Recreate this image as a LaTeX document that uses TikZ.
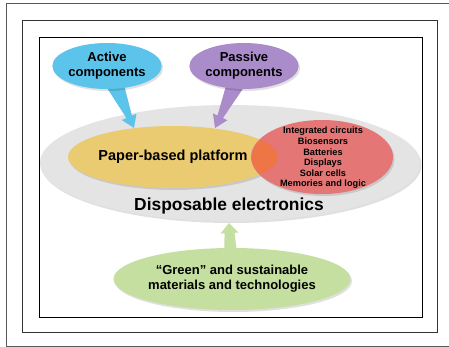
\documentclass[tikz,border=0pt]{standalone}
\usepackage{fontspec}
\setmainfont{Liberation Sans}
\usepackage{tikz}
\usetikzlibrary{shapes,arrows,backgrounds,calc,shadows}

\definecolor{DispGray}{HTML}{E4E4E4}
\definecolor{PlatYellow}{HTML}{EBCB72}
\definecolor{AppRed}{HTML}{E57676}
\definecolor{MixOrange}{HTML}{EE7545}
\definecolor{ActBlue}{HTML}{5CC3EA}
\definecolor{PasPurple}{HTML}{A98CC9}
\definecolor{GrnGreen}{HTML}{C4DFA0}

\pgfdeclarelayer{base}
\pgfdeclarelayer{links}
\pgfsetlayers{base,links,main}

\begin{document}
\begin{tikzpicture}[x=1pt,y=-1pt]
		\tikzstyle{Blob}	= [ellipse, inner sep=0pt, align=center, font=\bfseries,
							drop shadow={shadow xshift=1.5pt, shadow yshift=-2pt, fill=black, opacity=0.12}]
		\tikzstyle{Frame}	= [line width=1pt]
		\tikzstyle{Small}	= [font=\bfseries\fontsize{9.2}{10.6}\selectfont]
		\tikzstyle{Mid}		= [font=\bfseries\fontsize{13}{15}\selectfont]

		\useasboundingbox (0,0) rectangle (449,347);

		% frames
		\draw [Frame, black!65] (6,4) rectangle (460,346.5);
		\draw [Frame, black!80] (22,21) rectangle (437,332);
		\draw [Frame, black] (39,38) rectangle (422,317);

		\begin{pgfonlayer}{base}
		\fill[white] (0,0) rectangle (449,347);
		\node (disp) at (230,163) [Blob, fill=DispGray, minimum width=380pt, minimum height=116pt] {};
		\node (plat) at (173,157) [Blob, fill=PlatYellow, minimum width=210pt, minimum height=62pt] {};
		\node (apps) at (322,157) [Blob, fill=AppRed, minimum width=142pt, minimum height=74pt] {};
		\begin{scope}
			\clip (173,157) ellipse [x radius=105, y radius=31];
			\fill [MixOrange] (322,157) ellipse [x radius=70, y radius=36];
		\end{scope}
		\end{pgfonlayer}

		\node (act) at (107,66) [Blob, fill=ActBlue, minimum width=98pt, minimum height=46pt, Mid] {Active\\components};
		\node (pas) at (244,66) [Blob, fill=PasPurple, minimum width=98pt, minimum height=46pt, Mid] {Passive\\components};
		\node (grn) at (232,279) [Blob, fill=GrnGreen, minimum width=184pt, minimum height=62pt, Mid] {``Green'' and sustainable\\materials and technologies};

		\node (ptxt) at (173,157) [font=\bfseries\fontsize{14.5}{16}\selectfont] {Paper-based platform};
		\node (dtxt) at (229,206) [font=\bfseries\fontsize{17.4}{20}\selectfont] {Disposable electronics};
		\node (list) at (323,158) [Small, align=center] {Integrated circuits\\Biosensors\\Batteries\\Displays\\Solar cells\\Memories and logic};

		\coordinate (atip) at (134,128);
		\coordinate (ptip) at (215,128);
		\coordinate (gtip) at (229,223);

		% fat arrows
		\begin{pgfonlayer}{links}
		\foreach \from/\to/\wide/\neck/\head/\col in {act/atip/12pt/3pt/8pt/ActBlue, pas/ptip/12pt/3pt/8pt/PasPurple, grn/gtip/8pt/5pt/9pt/GrnGreen}
		{
			\coordinate (nk) at ($(\from)!0.82!(\to)$);
			\fill [\col] ($(\from)!\wide!90:(\to)$) -- ($(nk)!\neck!90:(\to)$) -- ($(nk)!\head!90:(\to)$)
				-- (\to) -- ($(nk)!\head!-90:(\to)$) -- ($(nk)!\neck!-90:(\to)$) -- ($(\from)!\wide!-90:(\to)$) -- cycle;
		}
		\end{pgfonlayer}
	\end{tikzpicture}
\end{document}
